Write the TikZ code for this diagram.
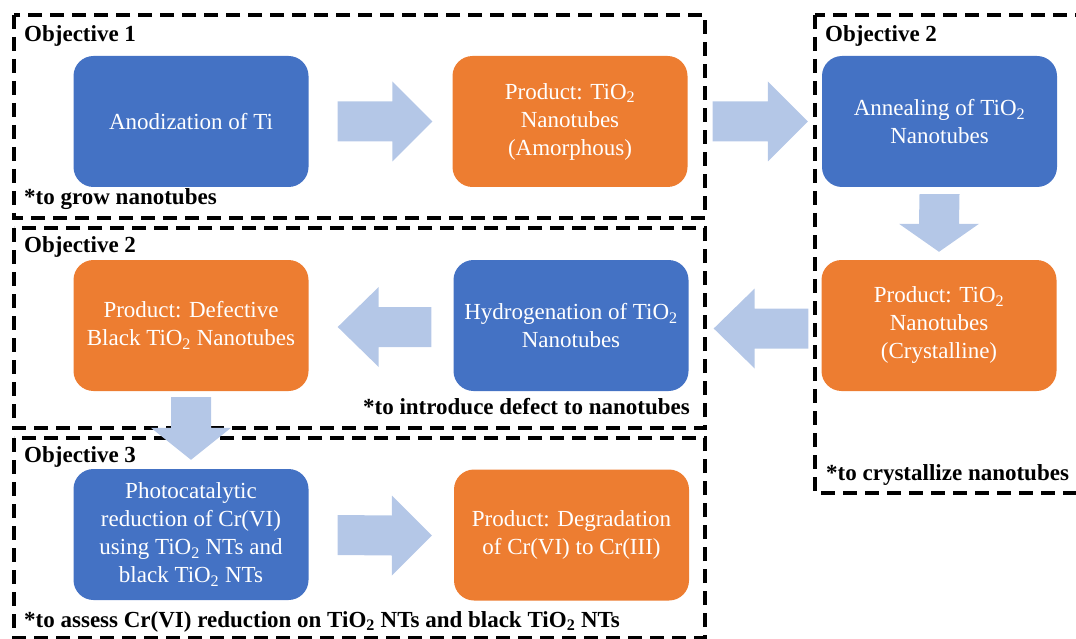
\documentclass[tikz,border=0pt]{standalone}
\usepackage{fontspec}
\setmainfont{Liberation Serif}
\usetikzlibrary{calc}

\definecolor{stepblue}{HTML}{4472C4}
\definecolor{steporange}{HTML}{ED7D31}
\definecolor{arrowblue}{HTML}{B4C7E7}

\tikzset{
  stepbox/.style={rounded corners=20pt, minimum width=235pt, minimum height=131pt,
    inner sep=0pt, align=center, text=white, font=\fontsize{23}{28}\selectfont},
  bluebox/.style={stepbox, fill=stepblue},
  orangebox/.style={stepbox, fill=steporange},
  groupframe/.style={draw=black, line width=4pt, dash pattern=on 14pt off 8pt},
  grouplabel/.style={inner sep=0pt, font=\fontsize{23}{27}\selectfont\bfseries},
  arrowfill/.style={fill=arrowblue},
}

% block arrows: #1 = tail coordinate, #2 = tip coordinate
\newcommand\rightblock[2]{\fill[arrowfill] ($(#1)+(0,-20)$) -- ($(#2)+(-40,-20)$) -- ($(#2)+(-40,-40)$) -- (#2) -- ($(#2)+(-40,40)$) -- ($(#2)+(-40,20)$) -- ($(#1)+(0,20)$) -- cycle;}
\newcommand\leftblock[2]{\fill[arrowfill] ($(#1)+(0,-20)$) -- ($(#2)+(41,-20)$) -- ($(#2)+(41,-40)$) -- (#2) -- ($(#2)+(41,40)$) -- ($(#2)+(41,20)$) -- ($(#1)+(0,20)$) -- cycle;}
\newcommand\downblock[3]{\fill[arrowfill] ($(#1)+(-20,0)$) -- ($(#2)+(-20,-#3)$) -- ($(#2)+(-40,-#3)$) -- (#2) -- ($(#2)+(40,-#3)$) -- ($(#2)+(20,-#3)$) -- ($(#1)+(20,0)$) -- cycle;}

\begin{document}
\begin{tikzpicture}[x=1pt,y=-1pt]
\useasboundingbox (0,0) rectangle (1076,639);
\clip (0,0) rectangle (1076,639);

% group frames
\draw[groupframe] (14,15) rectangle (705,218);
\draw[groupframe] (815,15) rectangle (1090,493);
\draw[groupframe] (14,228) rectangle (705,428);
\draw[groupframe] (14,438) rectangle (705,638);

% process steps
\node[bluebox]   (anod)   at (191,121.5) {Anodization of Ti};
\node[orangebox] (prod1)  at (570,121.5) {Product: TiO\textsubscript{2}\\Nanotubes\\(Amorphous)};
\node[bluebox]   (anneal) at (939.5,121.5) {Annealing of TiO\textsubscript{2}\\Nanotubes};
\node[orangebox] (cryst)  at (939,325.5) {Product: TiO\textsubscript{2}\\Nanotubes\\(Crystalline)};
\node[bluebox]   (hydro)  at (571,325.5) {Hydrogenation of TiO\textsubscript{2}\\Nanotubes};
\node[orangebox] (defect) at (191,325.5) {Product: Defective\\Black TiO\textsubscript{2} Nanotubes};
\node[bluebox]   (photo)  at (191,534.5) {Photocatalytic\\reduction of Cr(VI)\\using TiO\textsubscript{2} NTs and\\black TiO\textsubscript{2} NTs};
\node[orangebox] (degrad) at (571.5,535) {Product: Degradation\\of Cr(VI) to Cr(III)};

% group labels
\node[grouplabel, anchor=base west] (lab1)  at (24,42)   {Objective 1};
\node[grouplabel, anchor=base west] (note1) at (24,205)  {*to grow nanotubes};
\node[grouplabel, anchor=base west] (lab2)  at (825,42)  {Objective 2};
\node[grouplabel, anchor=base west] (note2) at (826,480) {*to crystallize nanotubes};
\node[grouplabel, anchor=base west] (lab3)  at (24,252)  {Objective 2};
\node[grouplabel, anchor=base east] (note3) at (690,414) {*to introduce defect to nanotubes};
\node[grouplabel, anchor=base west] (lab4)  at (24,462)  {Objective 3};
\node[grouplabel, anchor=base west] (note4) at (24,627)  {*to assess Cr(VI) reduction on TiO\textsubscript{2} NTs and black TiO\textsubscript{2} NTs};

% flow arrows between steps
\coordinate (a1s) at ($(anod.east)+(29,0)$);
\coordinate (a1e) at ($(prod1.west)+(-20,0)$);
\rightblock{a1s}{a1e}
\coordinate (a2s) at ($(prod1.east)+(25,0)$);
\coordinate (a2e) at ($(anneal.west)+(-14,0)$);
\rightblock{a2s}{a2e}
\coordinate (a3s) at ($(anneal.south)+(0,7)$);
\coordinate (a3e) at ($(cryst.north)+(0,-8)$);
\downblock{a3s}{a3e}{28}
\coordinate (a4s) at ($(cryst.west)+(-13,3)$);
\coordinate (a4e) at ($(hydro.east)+(25,3)$);
\leftblock{a4s}{a4e}
\coordinate (a5s) at ($(hydro.west)+(-22,1.5)$);
\coordinate (a5e) at ($(defect.east)+(29,1.5)$);
\leftblock{a5s}{a5e}
\coordinate (a6s) at ($(defect.south)+(0,6)$);
\coordinate (a6e) at ($(photo.north)+(0,-9)$);
\downblock{a6s}{a6e}{32}
\coordinate (a7s) at ($(photo.east)+(29,0.5)$);
\coordinate (a7e) at ($(degrad.west)+(-22,0.5)$);
\rightblock{a7s}{a7e}
\end{tikzpicture}
\end{document}
